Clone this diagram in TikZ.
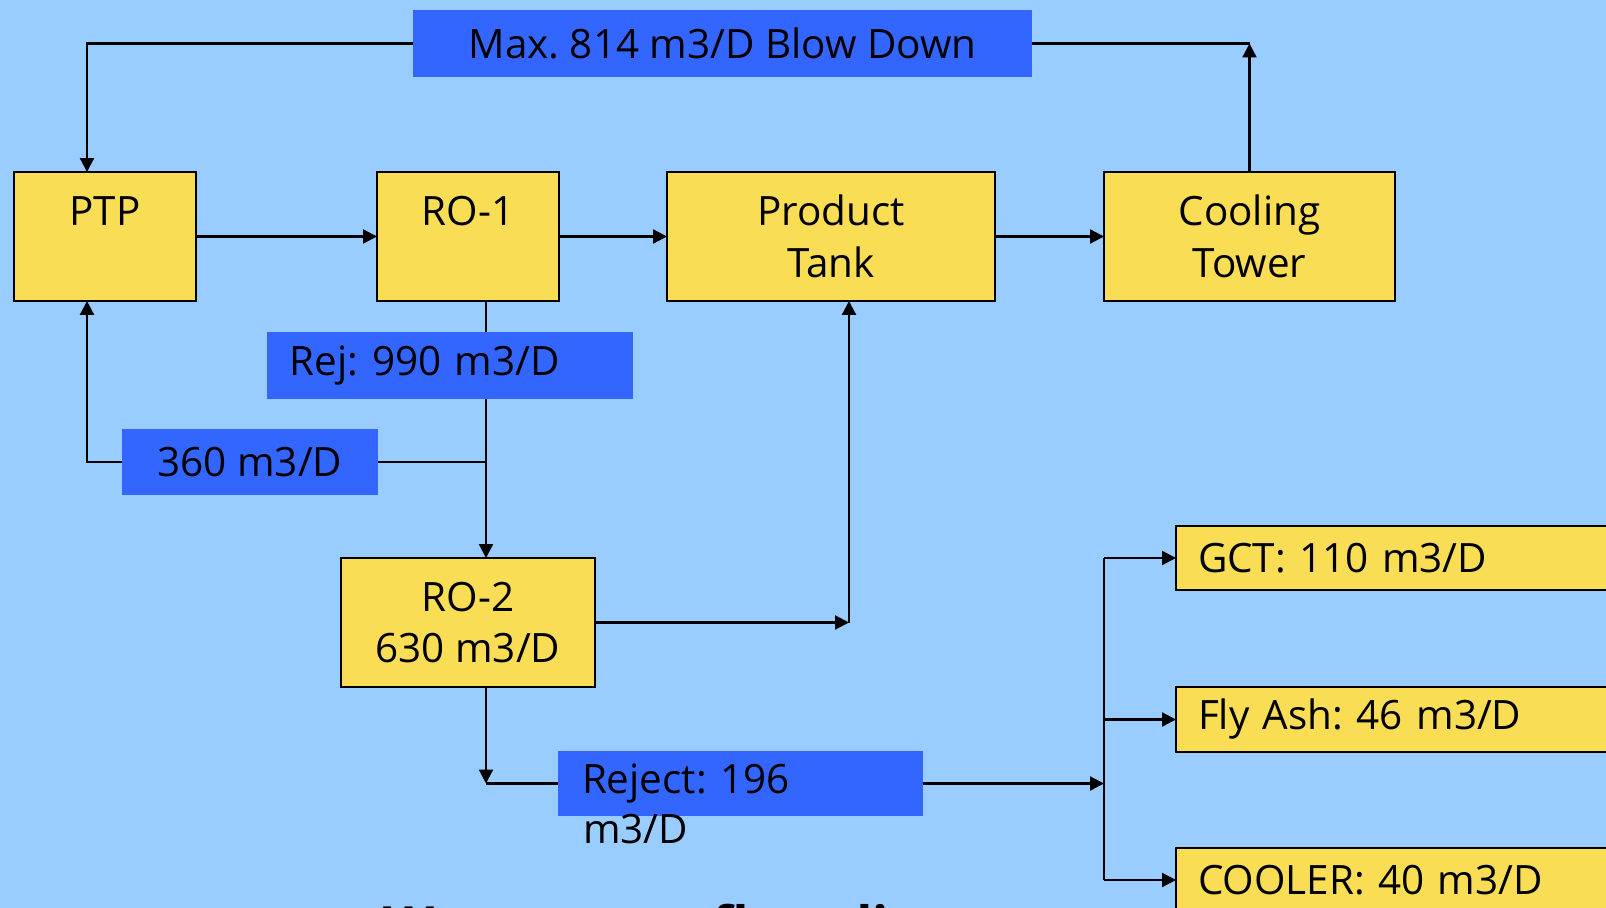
\documentclass[tikz,border=0pt]{standalone}
\usepackage{fontspec}
\setmainfont{Open Sans}
\usepackage{tikz}
\usetikzlibrary{arrows.meta}
\definecolor{sky}{HTML}{99CCFF}
\definecolor{sand}{HTML}{F9DE55}
\definecolor{royal}{HTML}{3366FF}
\tikzset{
  unitbox/.style={draw=black,line width=1.2pt,fill=sand,inner sep=0pt,outer sep=0pt,align=center},
  flowtag/.style={fill=royal,inner sep=0pt,outer sep=0pt,minimum height=1.33cm},
  flow/.style={-{Triangle[length=0.28cm,width=0.28cm]}},
}
\frenchspacing

\begin{document}
\begin{tikzpicture}[x=0.02cm,y=-0.02cm,line width=1.25pt,font=\fontsize{23}{29.5}\selectfont]
\fill[sky] (0,0) rectangle (1606,908);
\useasboundingbox (0,0) rectangle (1606,908);
% units
\node[unitbox,minimum width=3.64cm,minimum height=2.58cm] (ptp) at (105,236.5) {PTP\\\mbox{}};
\node[unitbox,minimum width=3.64cm,minimum height=2.58cm] (roone) at (468,236.5) {RO-1\\\mbox{}};
\node[unitbox,minimum width=6.56cm,minimum height=2.58cm] (tank) at (831,236.5) {Product\\Tank};
\node[unitbox,minimum width=5.82cm,minimum height=2.58cm] (tower) at (1249.5,236.5) {Cooling\\Tower};
\node[unitbox,minimum width=5.08cm,minimum height=2.58cm] (rotwo) at (468,622.5) {RO-2\\630 m3/D};
\node[unitbox,anchor=west,align=left,inner xsep=0.44cm,text width=8.12cm,minimum height=1.28cm] (gct) at (1176,558) {GCT: 110 m3/D};
\node[unitbox,anchor=west,align=left,inner xsep=0.44cm,text width=8.12cm,minimum height=1.3cm] (flyash) at (1176,719.5) {Fly Ash: 46 m3/D};
\node[unitbox,anchor=west,align=left,inner xsep=0.44cm,text width=8.12cm,minimum height=1.28cm] (cooler) at (1176,880) {COOLER: 40 m3/D};
% flow tags
\node[flowtag,minimum width=12.38cm] (blowdown) at (722.5,43.5) {Max. 814 m3/D Blow Down};
\node[flowtag,anchor=west,align=left,inner xsep=0.46cm,text width=6.4cm] (rej) at (267,365.5) {Rej: 990 m3/D};
\node[flowtag,minimum width=5.12cm,minimum height=1.32cm] (recycle) at (250,462) {360 m3/D};
\node[flowtag,anchor=west,align=left,inner xsep=0.48cm,text width=6.34cm,minimum height=1.3cm] (reject) at (558,783.5) {Reject: 196};
\node[anchor=base west,inner sep=0pt] (rejectwrap) at (582,843) {m3/D};
\node[anchor=base west,inner sep=0pt,font=\fontsize{30}{36}\selectfont\bfseries] (title) at (382,944) {Wastewater flow diagram};
% turning points
\coordinate (bdturn) at (1249.5,43.5);
\coordinate (split) at (486,462);
\coordinate (tankturn) at (849,622.5);
\coordinate (rejturn) at (486,783.5);
\coordinate (bus) at (1104,783.5);
% connectors
\draw[flow] (blowdown.west) -| ([xshift=-0.36cm]ptp.north);
\draw[flow] (tower.north) -- (bdturn);
\draw (blowdown.east) -- (bdturn);
\draw[flow] (ptp.east) -- (roone.west);
\draw[flow] (roone.east) -- (tank.west);
\draw[flow] (tank.east) -- (tower.west);
\draw (split |- roone.south) -- (split |- rej.north);
\draw[flow] (split |- rej.south) -- (split |- rotwo.north);
\draw (split) -- (recycle.east);
\draw[flow] (recycle.west) -| ([xshift=-0.36cm]ptp.south);
\draw[flow] (rotwo.east) -- (tankturn);
\draw[flow] (tankturn) -- (tankturn |- tank.south);
\draw[flow] (split |- rotwo.south) -- (rejturn);
\draw (rejturn) -- (reject.west);
\draw[flow] (reject.east) -- (bus);
\draw (bus |- gct.west) -- (bus |- cooler.west);
\foreach \n in {gct,flyash,cooler}
  \draw[flow] (bus |- \n.west) -- (\n.west);
\end{tikzpicture}
\end{document}
